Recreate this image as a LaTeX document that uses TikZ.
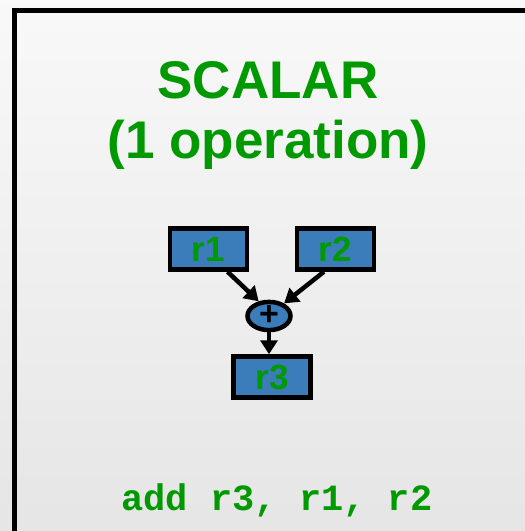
\documentclass[tikz,border=0pt]{standalone}
\usepackage{fontspec}
\setmainfont{Liberation Sans}
\newfontfamily\codefont{Liberation Mono}
\usetikzlibrary{shapes,arrows.meta,positioning,calc}
\definecolor{opgreen}{RGB}{0, 153, 0}
\definecolor{regblue}{RGB}{59, 125, 186}

\begin{document}
\begin{tikzpicture}[
    x=1pt, y=-1pt,
    reg/.style={draw, fill=regblue, line width=4.5pt, minimum width=77pt, minimum height=41pt, inner sep=0pt, font=\fontsize{35}{35}\selectfont\bfseries, text=opgreen},
    arrow/.style={-{Triangle[length=14pt,width=17pt]}, line width=4.5pt}
]
    % Hintergrund und Rahmen
    \useasboundingbox (0,0) rectangle (525,531);
    \clip (0,0) rectangle (525,531);
    \shade[top color=gray!5, bottom color=gray!20] (0,0) rectangle (525,531);
    \draw[line width=4.5pt] (14.5,545) -- (14.5,10.5) -- (545,10.5);

    % Titel
    \node[text=opgreen, font=\fontsize{53}{60}\selectfont\bfseries, align=center] (title) at (268,115) {SCALAR\\(1 operation)};

    % Register und Operation
    \node[reg] (r1) at (208.5,249) {r1};
    \node[reg] (r2) at (335.5,249) {r2};
    \node[draw, ellipse, fill=regblue, line width=4.5pt, minimum width=43pt, minimum height=24pt, inner sep=0pt, font=\fontsize{34}{34}\selectfont\bfseries] (plus) at (269,316) {\raisebox{-2pt}{+}};
    \node[reg] (r3) at (272,377) {r3};

    % Pfeile
    \draw[arrow] (r1.-50) -- (plus.125);
    \draw[arrow] (r2.-117) -- (plus.40);
    \draw[arrow] (plus.south) -- (plus.south |- r3.north);

    % Befehl
    \node[text=opgreen, font=\codefont\fontsize{37}{37}\selectfont\bfseries] (code) at (277,500) {add r3, r1, r2};
\end{tikzpicture}
\end{document}
